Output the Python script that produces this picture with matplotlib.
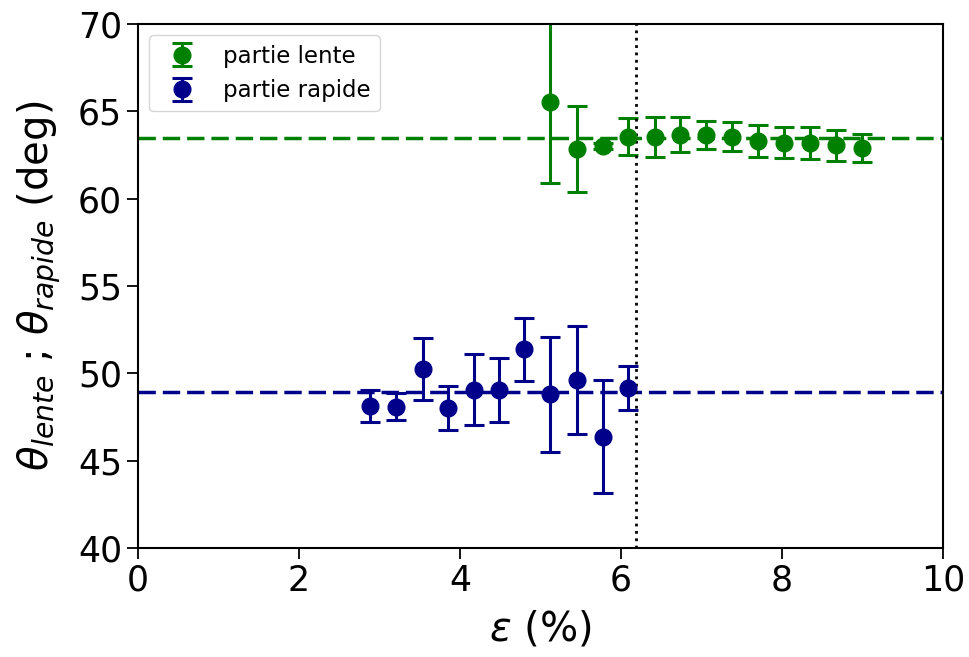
import numpy as np
import matplotlib.pyplot as plt

# partie lente (vert)
eps_lente = [5.12, 5.45, 5.78, 6.09, 6.42, 6.73, 7.06, 7.38, 7.70, 8.02, 8.35, 8.67, 8.99]
theta_lente = [65.55, 62.84, 63.02, 63.55, 63.55, 63.65, 63.65, 63.55, 63.3, 63.2, 63.2, 63.05, 62.92]
err_lente = [4.67, 2.45, 0.15, 1.05, 1.15, 1.0, 0.8, 0.85, 0.9, 0.9, 0.93, 0.87, 0.8]

# partie rapide (bleu)
eps_rapide = [2.88, 3.20, 3.54, 3.85, 4.17, 4.48, 4.80, 5.12, 5.45, 5.78, 6.09]
theta_rapide = [48.13, 48.1, 50.25, 48.0, 49.07, 49.07, 51.38, 48.8, 49.62, 46.38, 49.15]
err_rapide = [0.9, 0.76, 1.77, 1.26, 2.03, 1.83, 1.8, 3.3, 3.1, 3.21, 1.25]

moy_lente = 63.46
moy_rapide = 48.95
eps_seuil = 6.19

fig = plt.figure(figsize=(9.69, 6.57), dpi=100)
ax = fig.add_axes([0.1424, 0.1659, 0.8308, 0.7976])

ax.errorbar(eps_lente, theta_lente, yerr=err_lente, fmt='o', color='green',
            markersize=12, elinewidth=2.2, capsize=7.5, capthick=2.2, label='partie lente')
ax.errorbar(eps_rapide, theta_rapide, yerr=err_rapide, fmt='o', color='darkblue',
            markersize=12, elinewidth=2.2, capsize=7.5, capthick=2.2, label='partie rapide')

ax.axhline(moy_lente, color='green', linestyle=(0, (5, 2)), linewidth=2.5)
ax.axhline(moy_rapide, color='darkblue', linestyle=(0, (5, 2)), linewidth=2.5)
ax.axvline(eps_seuil, color='black', linestyle=':', linewidth=2)

ax.set_xlim(0, 10)
ax.set_ylim(40, 70)
ax.set_xticks([0, 2, 4, 6, 8, 10])
ax.set_yticks([40, 45, 50, 55, 60, 65, 70])
ax.tick_params(labelsize=25, length=8, width=1.3)
for s in ax.spines.values():
	s.set_linewidth(1.5)

ax.set_xlabel(r'$\varepsilon$ (%)', fontsize=29, labelpad=8)
ax.set_ylabel(r'$\theta_{lente}$ ; $\theta_{rapide}$ (deg)', fontsize=29, labelpad=10)
ax.legend(loc='upper left', fontsize=16.5, handlelength=2.0, borderaxespad=0.5)

plt.savefig('out.png', dpi=100)
